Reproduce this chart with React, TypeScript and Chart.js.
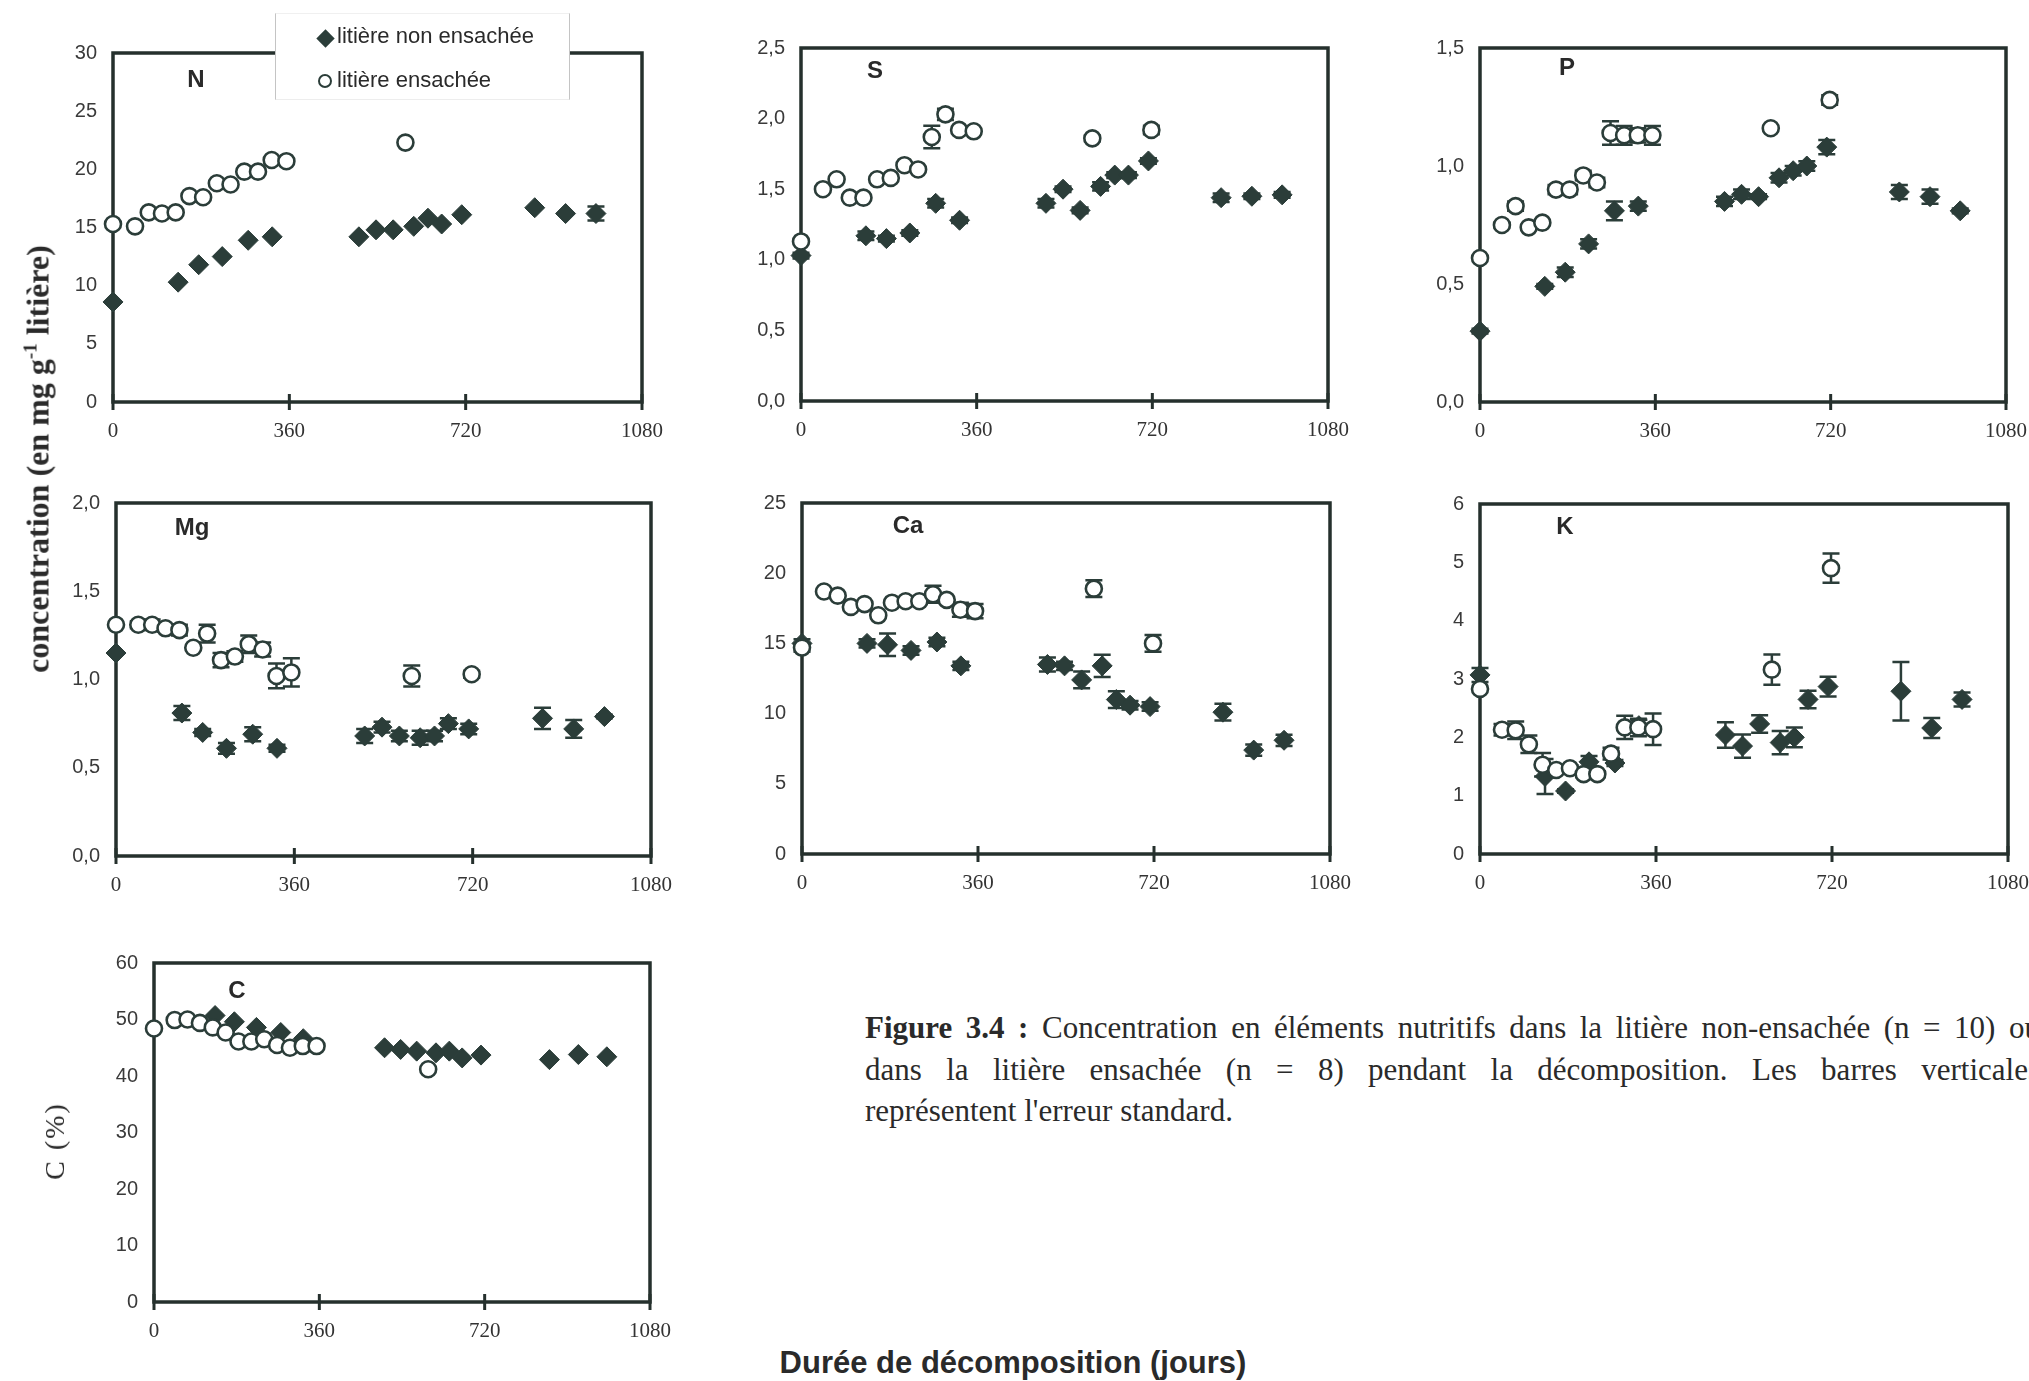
import React, { useEffect, useRef } from 'react';
import { Chart, registerables } from 'chart.js';
Chart.register(...registerables);

const INK = '#2b3d39';
const AXIS = '#25302d';

// sampling days
const xTicks = [0, 360, 720, 1080];
const bagDays = [0, 45, 73, 100, 128, 156, 184, 212, 240, 268, 296, 324, 354, 597, 718];
const looseDays = [0, 133, 175, 223, 276, 325, 502, 537, 572, 614, 643, 671, 712, 861, 924, 986];

// N
const nTicks = [0, 5, 10, 15, 20, 25, 30];
const nBag = [15.3, 15.1, 16.3, 16.2, 16.3, 17.7, 17.6, 18.8, 18.7, 19.8, 19.8, 20.8, 20.7, 22.3, null];
const nBagErr = [0, 0, 0, 0, 0, 0, 0, 0, 0, 0, 0, 0, 0, 0, 0];
const nLoose = [8.6, 10.3, 11.8, 12.5, 13.9, 14.2, 14.2, 14.8, 14.8, 15.1, 15.8, 15.3, 16.1, 16.7, 16.2, 16.2];
const nLooseErr = [0, 0, 0, 0, 0, 0, 0, 0, 0, 0, 0, 0, 0, 0, 0, 0.6];

// S
const sTicks = [0, 0.5, 1, 1.5, 2, 2.5];
const sBag = [1.13, 1.5, 1.57, 1.44, 1.44, 1.57, 1.58, 1.67, 1.64, 1.87, 2.03, 1.92, 1.91, 1.86, 1.92];
const sBagErr = [0, 0, 0, 0, 0, 0, 0, 0, 0, 0.08, 0.04, 0, 0, 0.02, 0.03];
const sLoose = [1.03, 1.17, 1.15, 1.19, 1.4, 1.28, 1.4, 1.5, 1.35, 1.52, 1.6, 1.6, 1.7, 1.44, 1.45, 1.46];
const sLooseErr = [0.02, 0.03, 0.02, 0.02, 0.03, 0.02, 0.03, 0.02, 0.02, 0.03, 0.02, 0.02, 0.02, 0.03, 0.02, 0.02];

// P
const pTicks = [0, 0.5, 1, 1.5];
const pBag = [0.61, 0.75, 0.83, 0.74, 0.76, 0.9, 0.9, 0.96, 0.93, 1.14, 1.13, 1.13, 1.13, 1.16, 1.28];
const pBagErr = [0, 0.01, 0.02, 0, 0.01, 0.02, 0.02, 0.02, 0.02, 0.05, 0.04, 0.03, 0.04, 0, 0.02];
const pLoose = [0.3, 0.49, 0.55, 0.67, 0.81, 0.83, 0.85, 0.88, 0.87, 0.95, 0.98, 1.0, 1.08, 0.89, 0.87, 0.81];
const pLooseErr = [0.01, 0.01, 0.02, 0.02, 0.04, 0.02, 0.02, 0.02, 0.01, 0.02, 0.02, 0.02, 0.03, 0.03, 0.03, 0.01];

// Mg
const mgTicks = [0, 0.5, 1, 1.5, 2];
const mgBag = [1.31, 1.31, 1.31, 1.29, 1.28, 1.18, 1.26, 1.11, 1.13, 1.2, 1.17, 1.02, 1.04, 1.02, 1.03];
const mgBagErr = [0, 0.02, 0.03, 0.02, 0.03, 0, 0.05, 0.04, 0.03, 0.05, 0.04, 0.07, 0.08, 0.06, 0.02];
const mgLoose = [1.15, 0.81, 0.7, 0.61, 0.69, 0.61, 0.68, 0.73, 0.68, 0.67, 0.68, 0.75, 0.72, 0.78, 0.72, 0.79];
const mgLooseErr = [0, 0.04, 0.02, 0.03, 0.04, 0.02, 0.04, 0.03, 0.03, 0.04, 0.03, 0.03, 0.03, 0.06, 0.05, 0.01];

// Ca
const caTicks = [0, 5, 10, 15, 20, 25];
const caBag = [14.7, 18.7, 18.4, 17.6, 17.8, 17.0, 17.9, 18.0, 18.0, 18.5, 18.1, 17.4, 17.3, 18.9, 15.0];
const caBagErr = [0.3, 0, 0, 0, 0, 0, 0, 0, 0, 0.6, 0, 0.5, 0.5, 0.6, 0.6];
const caLoose = [15.0, 15.0, 14.9, 14.5, 15.1, 13.4, 13.5, 13.4, 12.4, 13.4, 11.0, 10.6, 10.5, 10.1, 7.4, 8.1];
const caLooseErr = [0.3, 0.3, 0.8, 0.3, 0.3, 0.3, 0.5, 0.3, 0.6, 0.8, 0.6, 0.3, 0.3, 0.6, 0.4, 0.4];

// K
const kTicks = [0, 1, 2, 3, 4, 5, 6];
const kBag = [2.83, 2.13, 2.12, 1.88, 1.53, 1.44, 1.47, 1.37, 1.37, 1.72, 2.17, 2.17, 2.14, 3.16, 4.9];
const kBagErr = [0, 0.1, 0.15, 0.15, 0.2, 0, 0.05, 0.05, 0.05, 0.1, 0.2, 0.15, 0.27, 0.26, 0.25];
const kLoose = [3.07, 1.33, 1.08, 1.58, 1.56, 2.2, 2.04, 1.85, 2.23, 1.91, 2.0, 2.65, 2.87, 2.79, 2.16, 2.65];
const kLooseErr = [0.12, 0.3, 0.03, 0.1, 0.05, 0.1, 0.22, 0.2, 0.15, 0.2, 0.17, 0.15, 0.17, 0.5, 0.17, 0.12];

// C
const cTicks = [0, 10, 20, 30, 40, 50, 60];
const cBag = [48.4, 49.9, 50.0, 49.4, 48.6, 47.7, 46.1, 46.1, 46.5, 45.5, 45.0, 45.3, 45.3, 41.2, null];
const cBagErr = [0, 0, 0, 0, 0, 0, 0, 0, 0, 0, 0, 0, 0, 0, 0];
const cLoose = [null, 50.7, 49.6, 48.6, 47.7, 46.6, 45.0, 44.7, 44.4, 44.1, 44.4, 43.2, 43.7, 42.9, 43.8, 43.4];
const cLooseErr = [0, 0, 0, 0, 0, 0, 0, 0, 0, 0, 0, 0, 0, 0, 0, 0];

type PanelDef = {
  name: string;
  yTicks: number[];
  decimals: number;
  bag: (number | null)[];
  bagErr: number[];
  loose: (number | null)[];
  looseErr: number[];
  area: [number, number, number, number];
  labelAt: [number, number];
};

const panels: PanelDef[] = [
  { name: 'N', yTicks: nTicks, decimals: 0, bag: nBag, bagErr: nBagErr, loose: nLoose, looseErr: nLooseErr, area: [113, 53, 642, 402], labelAt: [196, 79] },
  { name: 'S', yTicks: sTicks, decimals: 1, bag: sBag, bagErr: sBagErr, loose: sLoose, looseErr: sLooseErr, area: [801, 48, 1328, 401], labelAt: [875, 70] },
  { name: 'P', yTicks: pTicks, decimals: 1, bag: pBag, bagErr: pBagErr, loose: pLoose, looseErr: pLooseErr, area: [1480, 48, 2006, 402], labelAt: [1567, 67] },
  { name: 'Mg', yTicks: mgTicks, decimals: 1, bag: mgBag, bagErr: mgBagErr, loose: mgLoose, looseErr: mgLooseErr, area: [116, 503, 651, 856], labelAt: [192, 527] },
  { name: 'Ca', yTicks: caTicks, decimals: 0, bag: caBag, bagErr: caBagErr, loose: caLoose, looseErr: caLooseErr, area: [802, 503, 1330, 854], labelAt: [908, 525] },
  { name: 'K', yTicks: kTicks, decimals: 0, bag: kBag, bagErr: kBagErr, loose: kLoose, looseErr: kLooseErr, area: [1480, 504, 2008, 854], labelAt: [1565, 526] },
  { name: 'C', yTicks: cTicks, decimals: 0, bag: cBag, bagErr: cBagErr, loose: cLoose, looseErr: cLooseErr, area: [154, 963, 650, 1302], labelAt: [237, 990] },
];

const PAD_L = 90, PAD_T = 44, PAD_R = 56, PAD_B = 60;

const frameErrPlugin = {
  id: 'frameErr',
  beforeDatasetsDraw(chart: any) {
    const { ctx, chartArea: a, scales } = chart;
    const xs = scales.x, ys = scales.y;
    ctx.save();
    ctx.strokeStyle = INK;
    ctx.lineWidth = 2.5;
    chart.data.datasets.forEach((ds: any) => {
      ds.data.forEach((p: any) => {
        if (!p.e) return;
        const px = xs.getPixelForValue(p.x);
        const y1 = ys.getPixelForValue(p.y - p.e);
        const y2 = ys.getPixelForValue(p.y + p.e);
        ctx.beginPath();
        ctx.moveTo(px, y1); ctx.lineTo(px, y2);
        ctx.moveTo(px - 8.5, y1); ctx.lineTo(px + 8.5, y1);
        ctx.moveTo(px - 8.5, y2); ctx.lineTo(px + 8.5, y2);
        ctx.stroke();
      });
    });
    ctx.strokeStyle = AXIS;
    ctx.lineWidth = 3.5;
    ctx.strokeRect(a.left, a.top, a.right - a.left, a.bottom - a.top);
    ctx.lineWidth = 3;
    xTicks.forEach((v) => {
      const px = xs.getPixelForValue(v);
      ctx.beginPath();
      ctx.moveTo(px, a.bottom - 8);
      ctx.lineTo(px, a.bottom + 8);
      ctx.stroke();
    });
    ctx.restore();
  },
};

function toPoints(days: number[], vals: (number | null)[], errs: number[]) {
  const out: { x: number; y: number; e: number }[] = [];
  days.forEach((d, i) => {
    const v = vals[i];
    if (v !== null && v !== undefined) out.push({ x: d, y: v, e: errs[i] || 0 });
  });
  return out;
}

function Panel({ def }: { def: PanelDef }) {
  const ref = useRef<HTMLCanvasElement>(null);
  const [l, t, r, b] = def.area;
  const w = r - l + PAD_L + PAD_R;
  const h = b - t + PAD_T + PAD_B;
  useEffect(() => {
    if (!ref.current) return;
    const yt = def.yTicks;
    const chart = new Chart(ref.current, {
      type: 'scatter',
      data: {
        datasets: [
          {
            data: toPoints(bagDays, def.bag, def.bagErr),
            pointStyle: 'circle',
            pointRadius: 8,
            pointBorderWidth: 2.6,
            pointBackgroundColor: '#ffffff',
            pointBorderColor: INK,
            backgroundColor: '#ffffff',
            borderColor: INK,
            clip: false,
          } as any,
          {
            data: toPoints(looseDays, def.loose, def.looseErr),
            pointStyle: 'rectRot',
            pointRadius: 10,
            pointBorderWidth: 1,
            pointBackgroundColor: INK,
            pointBorderColor: INK,
            backgroundColor: INK,
            borderColor: INK,
            clip: false,
          } as any,
        ],
      },
      options: {
        animation: false,
        responsive: false,
        events: [],
        layout: { padding: { left: 0, top: PAD_T, right: PAD_R, bottom: 0 } },
        plugins: { legend: { display: false }, tooltip: { enabled: false } },
        scales: {
          x: {
            type: 'linear',
            min: 0,
            max: 1080,
            afterBuildTicks: (s: any) => { s.ticks = xTicks.map((v) => ({ value: v })); },
            afterFit: (s: any) => { s.height = PAD_B; },
            grid: { display: false, drawTicks: false },
            border: { display: false },
            ticks: {
              padding: 17,
              font: { family: 'Liberation Serif', size: 21 },
              color: '#333',
              maxRotation: 0,
              autoSkip: false,
              callback: (v: any) => String(v),
            },
          },
          y: {
            type: 'linear',
            min: yt[0],
            max: yt[yt.length - 1],
            afterBuildTicks: (s: any) => { s.ticks = yt.map((v) => ({ value: v })); },
            afterFit: (s: any) => { s.width = PAD_L; },
            grid: { display: false, drawTicks: false },
            border: { display: false },
            ticks: {
              padding: 16,
              font: { family: 'Liberation Sans', size: 20 },
              color: '#3a3a3a',
              callback: (v: any) => Number(v).toFixed(def.decimals).replace('.', ','),
            },
          },
        },
      } as any,
      plugins: [frameErrPlugin],
    });
    return () => chart.destroy();
  }, []);
  return (
    <canvas
      ref={ref}
      width={w}
      height={h}
      style={{ position: 'absolute', left: l - PAD_L, top: t - PAD_T, width: w, height: h }}
    />
  );
}

const abs = (x: number, y: number): React.CSSProperties => ({
  position: 'absolute', left: x, top: y, transform: 'translate(-50%, -50%)', whiteSpace: 'nowrap',
});

export default function App() {
  return (
    <div style={{ position: 'fixed', left: 0, top: 0, width: 2029, height: 1381, overflow: 'hidden', background: '#fff', color: '#222' }}>
      {panels.map((p) => <Panel key={p.name} def={p} />)}
      {panels.map((p) => (
        <div key={'lab' + p.name} style={{ ...abs(p.labelAt[0], p.labelAt[1]), fontFamily: 'Liberation Sans', fontWeight: 'bold', fontSize: 24, color: '#2a2a2a' }}>
          {p.name}
        </div>
      ))}
      {/* legend */}
      <div style={{ position: 'absolute', left: 275, top: 13, width: 295, height: 87, background: '#fff', borderLeft: '1px solid #c4c4c4', borderRight: '1px solid #c4c4c4', borderTop: '1px solid #f0f0f0', borderBottom: '1px solid #ededed', boxSizing: 'border-box' }}>
        <div style={{ position: 'absolute', left: 43, top: 18, width: 13, height: 13, background: INK, transform: 'rotate(45deg)' }} />
        <div style={{ position: 'absolute', left: 61, top: 11, fontFamily: 'Liberation Sans', fontSize: 22, lineHeight: '22px', whiteSpace: 'nowrap', color: '#2a2a2a' }}>litière non ensachée</div>
        <div style={{ position: 'absolute', left: 42, top: 60, width: 10, height: 10, border: `2.7px solid ${INK}`, borderRadius: '50%', background: '#fff' }} />
        <div style={{ position: 'absolute', left: 61, top: 55, fontFamily: 'Liberation Sans', fontSize: 22, lineHeight: '22px', whiteSpace: 'nowrap', color: '#2a2a2a' }}>litière ensachée</div>
      </div>
      {/* y axis titles */}
      <div style={{ ...abs(38, 459), transform: 'translate(-50%, -50%) rotate(-90deg)', fontFamily: 'Liberation Serif', fontWeight: 'bold', fontSize: 32, color: '#2a2a2a' }}>
        concentration (en mg g<sup style={{ fontSize: '0.6em', verticalAlign: '0.6em', lineHeight: 0 }}>-1</sup> litière)
      </div>
      <div style={{ ...abs(55, 1141), transform: 'translate(-50%, -50%) rotate(-90deg)', fontFamily: 'Liberation Serif', fontSize: 28, letterSpacing: 2, color: '#2a2a2a' }}>
        C (%)
      </div>
      {/* x axis title */}
      <div style={{ ...abs(1013, 1363), fontFamily: 'Liberation Sans', fontWeight: 'bold', fontSize: 31, color: '#2a2a2a' }}>
        Durée de décomposition (jours)
      </div>
      {/* caption */}
      <div style={{ position: 'absolute', left: 865, top: 1007, width: 1175, fontFamily: 'Liberation Serif', fontSize: 31, lineHeight: '41.5px', color: '#2a2a2a' }}>
        <div style={{ textAlign: 'justify', textAlignLast: 'justify' } as any}>
          <b>Figure 3.4 :</b> Concentration en éléments nutritifs dans la litière non-ensachée (n = 10) ou
        </div>
        <div style={{ textAlign: 'justify', textAlignLast: 'justify' } as any}>
          dans la litière ensachée (n = 8) pendant la décomposition. Les barres verticales
        </div>
        <div>représentent l'erreur standard.</div>
      </div>
    </div>
  );
}
